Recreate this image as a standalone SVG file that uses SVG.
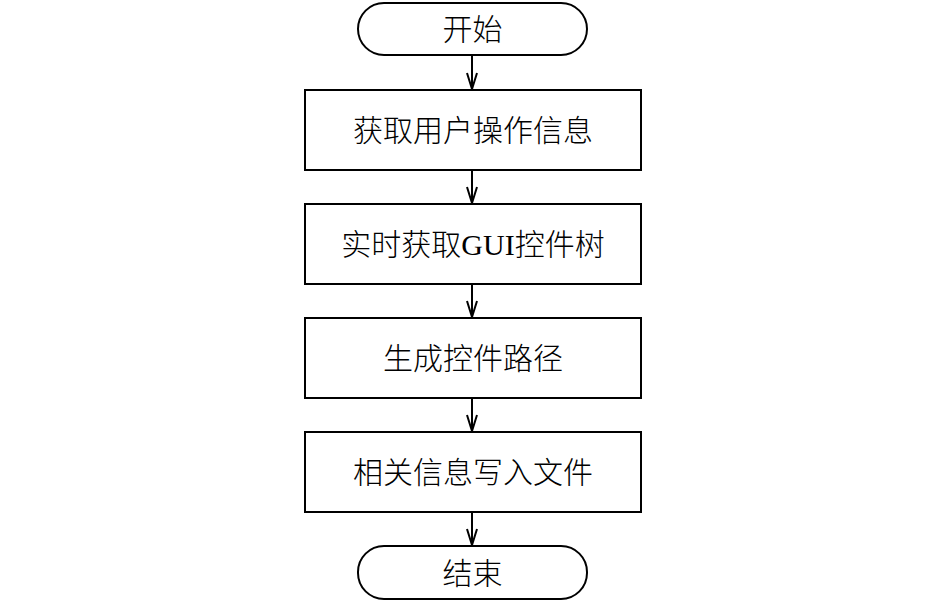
<svg xmlns="http://www.w3.org/2000/svg" width="945" height="602" viewBox="0 0 945 602">
<style>
.s{fill:#fff;stroke:#000;stroke-width:2}
.t{font-family:"Liberation Serif","Noto Sans CJK SC",serif;font-size:30px;font-weight:300;fill:#000;text-anchor:middle;dominant-baseline:central}
.c{stroke:#000;stroke-width:2;fill:none}
</style>
<defs>
<marker id="a" viewBox="0 0 18 12" refX="17" refY="6" markerWidth="18" markerHeight="12" markerUnits="userSpaceOnUse" orient="auto">
<path d="M1,1 L17,6 L1,11" fill="none" stroke="#000" stroke-width="2"/>
</marker>
</defs>
<g id="start"><rect class="s" x="358" y="3" width="229" height="52" rx="26"/><text class="t" x="472.5" y="29">开始</text></g>
<g id="n1"><rect class="s" x="305" y="90" width="336" height="80"/><text class="t" x="473" y="130">获取用户操作信息</text></g>
<g id="n2"><rect class="s" x="305" y="204" width="336" height="80"/><text class="t" x="473" y="244">实时获取GUI控件树</text></g>
<g id="n3"><rect class="s" x="305" y="318" width="336" height="80"/><text class="t" x="473" y="358">生成控件路径</text></g>
<g id="n4"><rect class="s" x="305" y="432" width="336" height="80"/><text class="t" x="473" y="472">相关信息写入文件</text></g>
<g id="end"><rect class="s" x="358" y="546" width="229" height="53" rx="26"/><text class="t" x="472.5" y="573">结束</text></g>
<g id="connectors">
<line class="c" x1="472" y1="55" x2="472" y2="89" marker-end="url(#a)"/>
<line class="c" x1="472" y1="170" x2="472" y2="203" marker-end="url(#a)"/>
<line class="c" x1="472" y1="284" x2="472" y2="317" marker-end="url(#a)"/>
<line class="c" x1="472" y1="398" x2="472" y2="431" marker-end="url(#a)"/>
<line class="c" x1="472" y1="512" x2="472" y2="545" marker-end="url(#a)"/>
</g>
</svg>
